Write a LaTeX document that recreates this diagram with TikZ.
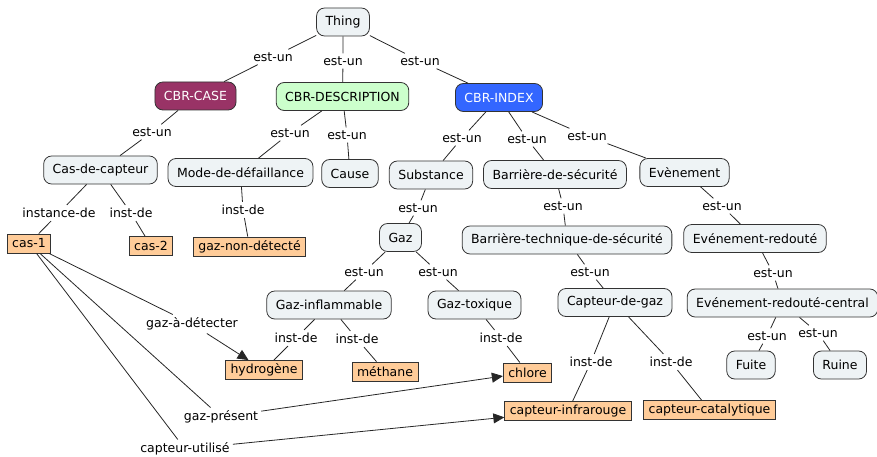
\documentclass[tikz,border=0pt]{standalone}
\usepackage{fontspec}
\setmainfont{DejaVu Sans}
\usetikzlibrary{arrows.meta}
\definecolor{conceptfill}{HTML}{EEF3F5}
\definecolor{instfill}{HTML}{FFCC99}
\definecolor{casefill}{HTML}{993366}
\definecolor{descfill}{HTML}{CCFFCC}
\definecolor{indexfill}{HTML}{3366FF}
\definecolor{bordure}{HTML}{333333}
\begin{document}
\begin{tikzpicture}[>={Triangle[length=11pt,width=10pt]},x=1pt,y=-1pt,
    font=\fontsize{12.5}{15}\selectfont,
    concept/.style={draw=bordure,fill=conceptfill,rounded corners=8pt,
        inner xsep=9pt,minimum height=28pt,line width=0.8pt},
    inst/.style={draw=bordure,fill=instfill,inner xsep=5pt,inner ysep=2pt,
        minimum height=19pt,line width=0.8pt},
    lien/.style={inner sep=3pt},
    trait/.style={line width=0.8pt,draw=black!85}]
    \useasboundingbox (0,0) rectangle (877,457);
    % concepts
    \node[concept] (thing) at (343,22) {Thing};
    \node[concept,fill=casefill,text=white] (cbrcase) at (195.5,96) {CBR-CASE};
    \node[concept,fill=descfill] (cbrdesc) at (342.5,96.5) {CBR-DESCRIPTION};
    \node[concept,fill=indexfill,text=white] (cbrindex) at (499,97.5) {CBR-INDEX};
    \node[concept] (cascapteur) at (100.5,170) {Cas-de-capteur};
    \node[concept] (mode) at (240.5,172.5) {Mode-de-défaillance};
    \node[concept] (cause) at (350,173.5) {Cause};
    \node[concept] (substance) at (431,175) {Substance};
    \node[concept] (barriere) at (555,174.5) {Barrière-de-sécurité};
    \node[concept] (evenement) at (684.5,172.5) {Evènement};
    \node[concept] (gaz) at (400.5,237.5) {Gaz};
    \node[concept] (barrieretech) at (567,240) {Barrière-technique-de-sécurité};
    \node[concept] (evredoute) at (755,238.5) {Evénement-redouté};
    \node[concept] (gazinfl) at (329,305) {Gaz-inflammable};
    \node[concept] (gaztox) at (474.5,305) {Gaz-toxique};
    \node[concept] (capteurgaz) at (615,302.5) {Capteur-de-gaz};
    \node[concept] (evcentral) at (782.5,303) {Evénement-redouté-central};
    \node[concept] (fuite) at (751,365) {Fuite};
    \node[concept] (ruine) at (840,365) {Ruine};
    % instances
    \node[inst] (cas1) at (29,243.5) {cas-1};
    \node[inst] (cas2) at (151,246) {cas-2};
    \node[inst] (gaznondet) at (249.5,246.5) {gaz-non-détecté};
    \node[inst] (hydrogene) at (264,370) {hydrogène};
    \node[inst] (methane) at (385,371.5) {méthane};
    \node[inst] (chlore) at (527.5,372.5) {chlore};
    \node[inst] (infrarouge) at (568,411) {capteur-infrarouge};
    \node[inst] (catalytique) at (709.5,410) {capteur-catalytique};
    % liens
    \node[lien] (l1) at (273,57) {est-un};
    \node[lien] (l2) at (343,61) {est-un};
    \node[lien] (l3) at (420,61) {est-un};
    \node[lien] (l4) at (152,132) {est-un};
    \node[lien] (l5) at (290,133) {est-un};
    \node[lien] (l6) at (347,135) {est-un};
    \node[lien] (l7) at (59,213) {instance-de};
    \node[lien] (l8) at (131,213) {inst-de};
    \node[lien] (l9) at (243,210) {inst-de};
    \node[lien] (l10) at (462,138) {est-un};
    \node[lien] (l11) at (527,139) {est-un};
    \node[lien] (l12) at (587,136) {est-un};
    \node[lien] (l13) at (418,208) {est-un};
    \node[lien] (l14) at (563,206) {est-un};
    \node[lien] (l15) at (722,206) {est-un};
    \node[lien] (l16) at (364,272) {est-un};
    \node[lien] (l17) at (438,272) {est-un};
    \node[lien] (l18) at (590,272) {est-un};
    \node[lien] (l19) at (773,273) {est-un};
    \node[lien] (l20) at (296,338) {inst-de};
    \node[lien] (l21) at (357,339) {inst-de};
    \node[lien] (l22) at (501,338) {inst-de};
    \node[lien] (l23) at (591,362) {inst-de};
    \node[lien] (l24) at (671,362) {inst-de};
    \node[lien] (l25) at (767,336) {est-un};
    \node[lien] (l26) at (818,333) {est-un};
    \node[lien] (l27) at (192,324) {gaz-à-détecter};
    \node[lien] (l28) at (221,417) {gaz-présent};
    \node[lien] (l29) at (185,449) {capteur-utilisé};
    % traits
    \draw[trait] (thing) -- (l1) (l1) -- (cbrcase);
    \draw[trait] (thing) -- (l2) (l2) -- (cbrdesc);
    \draw[trait] (thing) -- (l3) (l3) -- (cbrindex);
    \draw[trait] (cbrcase) -- (l4) (l4) -- (cascapteur);
    \draw[trait] (cbrdesc) -- (l5) (l5) -- (mode);
    \draw[trait] (cbrdesc) -- (l6) (l6) -- (cause);
    \draw[trait] (cascapteur) -- (l7) (l7) -- (cas1);
    \draw[trait] (cascapteur) -- (l8) (l8) -- (cas2);
    \draw[trait] (mode) -- (l9) (l9) -- (gaznondet);
    \draw[trait] (cbrindex) -- (l10) (l10) -- (substance);
    \draw[trait] (cbrindex) -- (l11) (l11) -- (barriere);
    \draw[trait] (cbrindex) -- (l12) (l12) -- (evenement);
    \draw[trait] (substance) -- (l13) (l13) -- (gaz);
    \draw[trait] (barriere) -- (l14) (l14) -- (barrieretech);
    \draw[trait] (evenement) -- (l15) (l15) -- (evredoute);
    \draw[trait] (gaz) -- (l16) (l16) -- (gazinfl);
    \draw[trait] (gaz) -- (l17) (l17) -- (gaztox);
    \draw[trait] (barrieretech) -- (l18) (l18) -- (capteurgaz);
    \draw[trait] (evredoute) -- (l19) (l19) -- (evcentral);
    \draw[trait] (gazinfl) -- (l20) (l20) -- (hydrogene);
    \draw[trait] (gazinfl) -- (l21) (l21) -- (methane);
    \draw[trait] (gaztox) -- (l22) (l22) -- (chlore);
    \draw[trait] (capteurgaz) -- (l23) (l23) -- (infrarouge);
    \draw[trait] (capteurgaz) -- (l24) (l24) -- (catalytique);
    \draw[trait] (evcentral) -- (l25) (l25) -- (fuite);
    \draw[trait] (evcentral) -- (l26) (l26) -- (ruine);
    \draw[trait] (cas1) -- (l27);
    \draw[trait,->] (l27) -- (hydrogene);
    \draw[trait] (cas1) -- (l28);
    \draw[trait,->] (l28) -- (chlore);
    \draw[trait] (cas1) -- (l29);
    \draw[trait,->] (l29) -- (infrarouge);
\end{tikzpicture}
\end{document}
